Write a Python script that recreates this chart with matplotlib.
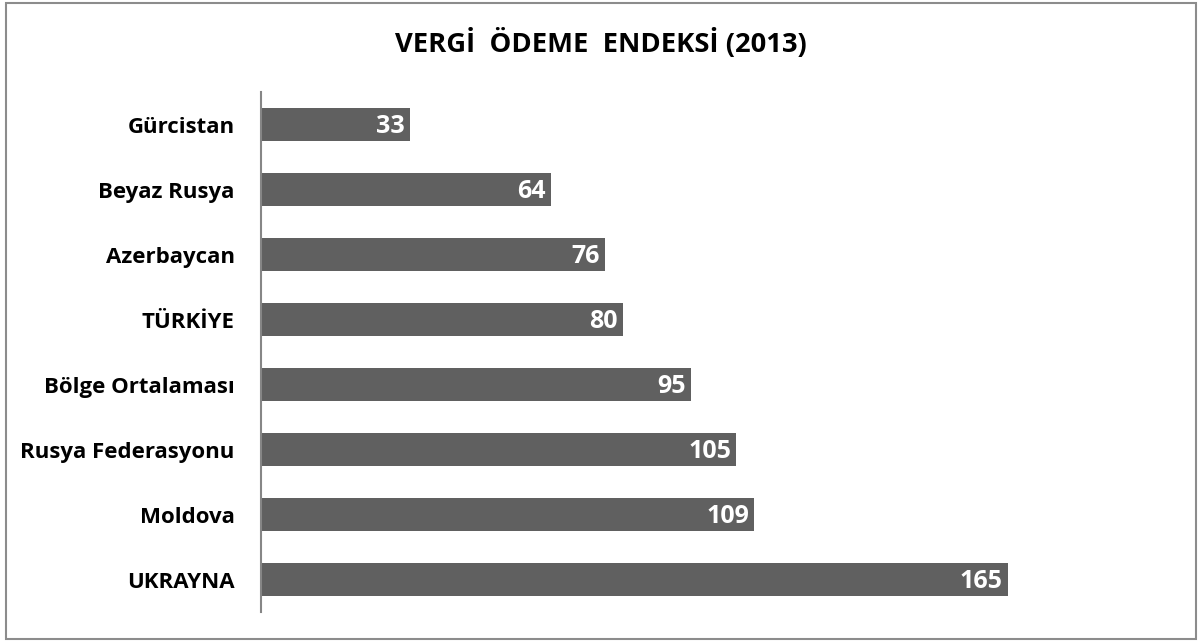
import matplotlib
matplotlib.use("Agg")
import matplotlib.pyplot as plt
from matplotlib.patches import Rectangle

countries = ["Gürcistan", "Beyaz Rusya", "Azerbaycan", "TÜRKİYE",
             "Bölge Ortalaması", "Rusya Federasyonu", "Moldova", "UKRAYNA"]
values = [33, 64, 76, 80, 95, 105, 109, 165]
title = "VERGİ  ÖDEME  ENDEKSİ (2013)"

plt.rcParams['font.family'] = ['Open Sans', 'DejaVu Sans']

fig = plt.figure(figsize=(12.02, 6.43), dpi=100)
ax = fig.add_axes([0.2171, 0.0482, 0.678, 0.8087])

ypos = list(range(len(countries)))
bars = ax.barh(ypos, values, height=0.51, color="#606060")
ax.set_ylim(len(countries) - 0.5, -0.5)
ax.set_xlim(0, 180)

for b, v in zip(bars, values):
    ax.text(b.get_width() - 1.2, b.get_y() + b.get_height() / 2 + 0.03, str(v),
            ha="right", va="center", color="white", fontsize=18, fontweight="bold")

ax.set_yticks(ypos)
ax.set_yticklabels(countries, fontsize=16, fontweight="bold")
ax.tick_params(axis="y", length=0, pad=19)
ax.set_xticks([])
for s in ["top", "right", "bottom"]:
    ax.spines[s].set_visible(False)
ax.spines["left"].set_color("#868686")
ax.spines["left"].set_linewidth(1.5)

fig.text(0.5, 0.933, title, ha="center", va="center", fontsize=19.7, fontweight="bold")

fig.patches.append(Rectangle((0.005, 0.006), 0.99, 0.99, transform=fig.transFigure,
                             fill=False, edgecolor="#8c8c8c", linewidth=1.5))

fig.savefig("out.png", dpi=100)
